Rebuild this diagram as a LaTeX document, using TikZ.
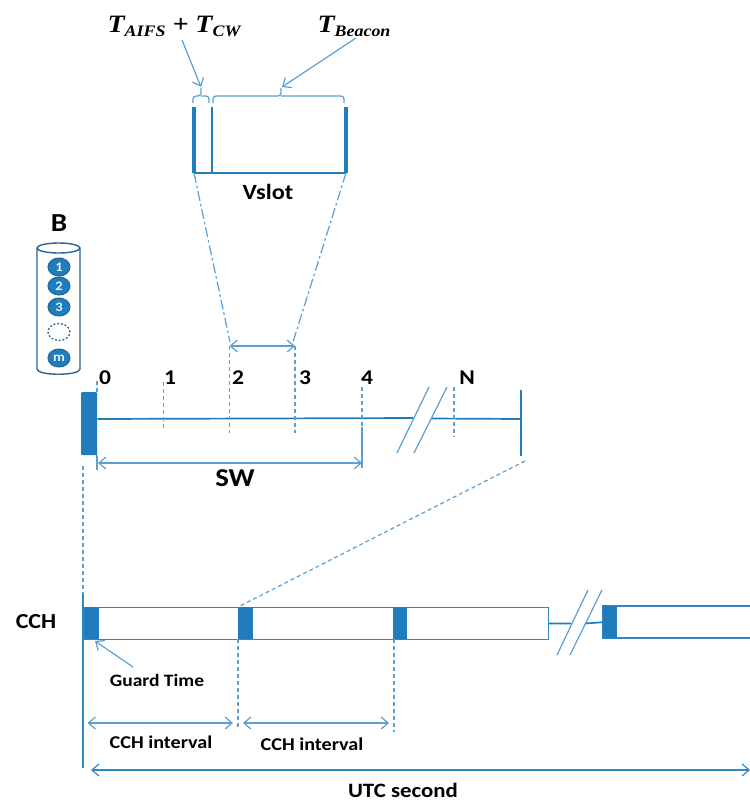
\documentclass[tikz,border=0pt]{standalone}
\usepackage{fontspec}
\setmainfont[FakeStretch=1.12]{Carlito}
\newfontfamily\mathlike[FakeStretch=1.12]{Liberation Serif}
\usetikzlibrary{arrows.meta,shapes.geometric}
\definecolor{solidblue}{HTML}{1F7DBE}
\definecolor{linkblue}{HTML}{5B9FD3}
\definecolor{darkcyl}{HTML}{2A6496}
\tikzset{
  thinline/.style={draw=linkblue,line width=1.2pt},
  mainline/.style={draw=solidblue,line width=1.7pt},
  dashline/.style={draw=linkblue,line width=1.2pt,dash pattern=on 4pt off 3pt},
  dashdotline/.style={draw=linkblue,line width=1.2pt,dash pattern=on 10pt off 3pt on 2.5pt off 3pt},
  barb/.style={-{Straight Barb[length=7pt,width=12pt,line width=1.2pt]}},
  twobarb/.style={{Straight Barb[length=7pt,width=12pt,line width=1.2pt]}-{Straight Barb[length=7pt,width=12pt,line width=1.2pt]}},
  lab/.style={font=\bfseries,text=black,inner sep=0pt},
  blockfill/.style={fill=solidblue,draw=none,inner sep=0pt,anchor=north west},
  segbox/.style={draw=solidblue!70!linkblue,line width=1.1pt,fill=white,inner sep=0pt,anchor=north west,minimum height=32pt},
  ball/.style={ellipse,fill=solidblue,draw=darkcyl,line width=1pt,minimum width=22pt,minimum height=18pt,inner sep=0pt,text=white!90!solidblue,font=\bfseries\fontsize{13}{13}\selectfont},
}
\begin{document}
\begin{tikzpicture}[x=1pt,y=-1pt]
\useasboundingbox (0,0) rectangle (750,801);
% texts
\node[lab,font=\mathlike\bfseries\itshape\fontsize{25}{25}\selectfont] (taifs) at (174,26) {T\raisebox{-4pt}{\fontsize{16}{16}\selectfont AIFS} + T\raisebox{-4pt}{\fontsize{16}{16}\selectfont CW}};
\node[lab,font=\mathlike\bfseries\itshape\fontsize{25}{25}\selectfont] (tbeacon) at (354,26) {T\raisebox{-4pt}{\fontsize{16}{16}\selectfont Beacon}};
\node[lab,font=\bfseries\fontsize{21.7}{21.7}\selectfont] (vslot) at (268,192) {Vslot};
\node[lab,font=\bfseries\fontsize{26}{26}\selectfont] (bl) at (59,223) {B};
\foreach \t/\x/\n in {0/105/l0,1/170/l1,2/238/l2,3/305/l3,4/367/l4,N/467/lN}
  \node[lab,font=\bfseries\fontsize{21}{21}\selectfont] (\n) at (\x,378) {\t};
\node[lab,font=\bfseries\fontsize{25.7}{25.7}\selectfont] (sw) at (235,478) {SW};
\node[lab,font=\bfseries\fontsize{21.4}{21.4}\selectfont] (cch) at (36,622) {CCH};
\node[lab,font=\bfseries\fontsize{17.4}{17.4}\selectfont] (guard) at (157,680) {Guard Time};
\node[lab,font=\bfseries\fontsize{18}{18}\selectfont] (ci1) at (161,742) {CCH interval};
\node[lab,font=\bfseries\fontsize{18}{18}\selectfont] (ci2) at (312,744) {CCH interval};
\node[lab,font=\bfseries\fontsize{20.4}{20.4}\selectfont] (utc) at (403,790) {UTC second};
% buffer cylinder
\draw[darkcyl,line width=1.4pt] (37,248) -- (37,369) .. controls (37,376) and (80,376) .. (80,369) -- (80,248);
\draw[darkcyl,line width=1.4pt] (58.5,248) ellipse [x radius=21.5pt,y radius=5pt];
\node[ball] (b1) at (59,267) {1};
\node[ball] (b2) at (59,286) {2};
\node[ball] (b3) at (59,307) {3};
\node[ellipse,draw=darkcyl,line width=1.4pt,dash pattern=on 1.8pt off 2pt,minimum width=22pt,minimum height=17pt] (bd) at (59,332) {};
\node[ball] (bm) at (59,358) {m};
% Vslot
\coordinate (vl) at (194,173); \coordinate (vr) at (346,173);
\coordinate (vlt) at (194,107); \coordinate (vrt) at (346,107);
\coordinate (vmt) at (212,107); \coordinate (vm) at (212,173);
\draw[mainline] (vl) -- (vr);
\draw[solidblue,line width=3.4pt] (vl) -- (vlt);
\draw[solidblue,line width=3.4pt] (vr) -- (vrt);
\draw[solidblue,line width=1.2pt] (vm) -- (vmt);
% braces
\draw[thinline,rounded corners=3pt] (193,103) -- (193,96) -- (201,96) -- (201,88);
\draw[thinline,rounded corners=3pt] (209,103) -- (209,96) -- (201,96);
\coordinate (bs) at (201,87);
\draw[thinline,rounded corners=3pt] (213,103) -- (213,96) -- (281,96) -- (281,88);
\draw[thinline,rounded corners=3pt] (344,103) -- (344,96) -- (281,96);
\coordinate (bb) at (282,87);
\coordinate (taifsE) at (182,40); \coordinate (tbeaconE) at (356,38);
\draw[thinline,barb] (taifsE) -- (bs);
\draw[thinline,barb] (tbeaconE) -- (bb);
% zoom lines
\coordinate (t2) at (229.5,346); \coordinate (t3) at (295,346);
\draw[dashdotline] (vl) -- (230,342);
\draw[dashdotline] (vr) -- (293,342);
\draw[thinline,twobarb] (t2) -- (t3);
% schedule window
\node[blockfill,minimum width=16pt,minimum height=63pt,rounded corners=1pt] (head) at (81,392) {};
\coordinate (m4) at (413,418); \coordinate (m5) at (431,418.5); \coordinate (mend) at (521,419);
\draw[mainline] (head.east |- 0,419) -- (m4);
\draw[mainline] (m5) -- (mend);
\draw[dashline] (97,381) -- (97,392);
\draw[dashline] (163.5,382) -- (163.5,431);
\draw[dashline] (t2) -- (229.5,433);
\draw[dashline] (t3) -- (295,433);
\draw[dashline] (362,387) -- (362,427);
\draw[thinline] (362,427) -- (362,468);
\draw[dashline] (454,387) -- (454,437);
\draw[solidblue,line width=1.3pt] (521,390) -- (mend) -- (521,456);
\draw[thinline] (429,387) -- (397,453);
\draw[thinline] (447,387) -- (414,453);
\draw[thinline] (97,455) -- (97,470);
\draw[thinline,twobarb] (98,463) -- (362,463);
% CCH bar
\node[segbox,minimum width=465pt] (seg1) at (83,607) {};
\node[blockfill,minimum width=15.5pt,minimum height=32pt] (g1) at (83,607) {};
\node[blockfill,minimum width=15pt,minimum height=32pt] (g2) at (238,607) {};
\node[blockfill,minimum width=14pt,minimum height=32pt] (g3) at (393,607) {};
\draw[draw=solidblue!70!linkblue,line width=1.1pt,fill=white] (750,606) -- (603,606) -- (603,638) -- (750,638);
\node[blockfill,minimum width=14pt,minimum height=32pt] (g4) at (603,606) {};
\coordinate (cb1) at (571,623.5); \coordinate (cb2) at (585,623.5);
\draw[mainline] (seg1.east) -- (cb1);
\draw[mainline] (cb2) -- (g4.west);
\draw[thinline] (557,655) -- (588,590);
\draw[thinline] (570,655) -- (602,590);
\draw[solidblue!70!linkblue,line width=1.1pt] (83,594) -- (83,768);
\draw[dashline] (83,466) -- (83,594);
\draw[dashline] (525,461) -- (g2.north west);
\draw[dashline] (g2.south west) -- (238,727);
\draw[dashline] (394,639) -- (394,732);
\draw[thinline,barb] (133,667) -- (95,641);
\draw[thinline,twobarb] (87.5,723) -- (233,723);
\draw[thinline,twobarb] (243,723) -- (389,723);
\draw[draw=solidblue!70!linkblue,line width=1.1pt,twobarb] (91,770) -- (750,770);
\end{tikzpicture}
\end{document}
